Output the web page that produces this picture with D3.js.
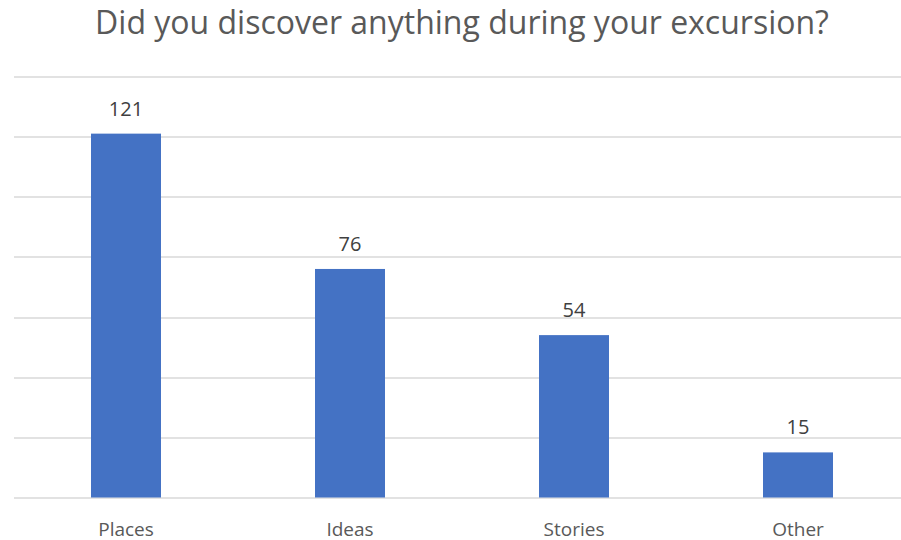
<!DOCTYPE html>
<html>
<head>
<meta charset="utf-8">
<script src="https://cdn.jsdelivr.net/npm/d3@7"></script>
<style>
  body { margin: 0; background: #fff; }
  text { font-family: "Open Sans", "Noto Sans", sans-serif; }
</style>
</head>
<body>
<div id="chart"></div>
<script>
// Chart data
var categories = ["Places", "Ideas", "Stories", "Other"];
var counts = [121, 76, 54, 15];
var yTicks = [0, 20, 40, 60, 80, 100, 120, 140];
var chartTitle = "Did you discover anything during your excursion?";

var svgWidth = 901;
var svgHeight = 540;

var margins = { top: 76.5, right: -9, bottom: 42.5, left: 14 };
var width = svgWidth - margins.left - margins.right;
var height = svgHeight - margins.top - margins.bottom;

var svg = d3.select("#chart")
    .append("svg")
    .attr("width", svgWidth)
    .attr("height", svgHeight);

var chartGroup = svg.append("g")
    .attr("transform", `translate(${margins.left}, ${margins.top})`);

// Scales
var xScale = d3.scaleBand()
    .domain(categories)
    .range([0, width])
    .paddingInner(0.6875)
    .paddingOuter(0.34375);

var yScale = d3.scaleLinear()
    .domain([0, 140])
    .range([height, 0]);

// Horizontal gridlines
chartGroup.selectAll(".grid")
    .data(yTicks)
    .enter()
    .append("line")
    .attr("x1", 0)
    .attr("x2", width)
    .attr("y1", d => Math.round(yScale(d)) + 0.5)
    .attr("y2", d => Math.round(yScale(d)) + 0.5)
    .attr("stroke", "#d9d9d9")
    .attr("stroke-width", 1.3);

// Bars
chartGroup.selectAll(".bar")
    .data(counts)
    .enter()
    .append("rect")
    .attr("x", (d, i) => xScale(categories[i]))
    .attr("y", d => yScale(d))
    .attr("width", xScale.bandwidth())
    .attr("height", d => height - yScale(d))
    .attr("fill", "#4472c4");

// Value labels
chartGroup.selectAll(".value")
    .data(counts)
    .enter()
    .append("text")
    .attr("x", (d, i) => xScale(categories[i]) + xScale.bandwidth() / 2)
    .attr("y", d => yScale(d) - 18)
    .attr("text-anchor", "middle")
    .attr("font-size", "20px")
    .attr("fill", "#404040")
    .text(d => d);

// Category labels
var xAxis = d3.axisBottom(xScale).tickSize(0).tickPadding(0);
var xAxisGroup = chartGroup.append("g")
    .attr("transform", `translate(0, ${height})`)
    .call(xAxis);
xAxisGroup.select(".domain").remove();
xAxisGroup.selectAll("text")
    .attr("dy", null)
    .attr("y", 38)
    .attr("font-family", null)
    .attr("font-size", "19px")
    .attr("fill", "#595959");

// Title
svg.append("text")
    .attr("x", margins.left + width / 2)
    .attr("y", 34)
    .attr("text-anchor", "middle")
    .attr("font-size", "32px")
    .attr("fill", "#595959")
    .text(chartTitle);
</script>
</body>
</html>
